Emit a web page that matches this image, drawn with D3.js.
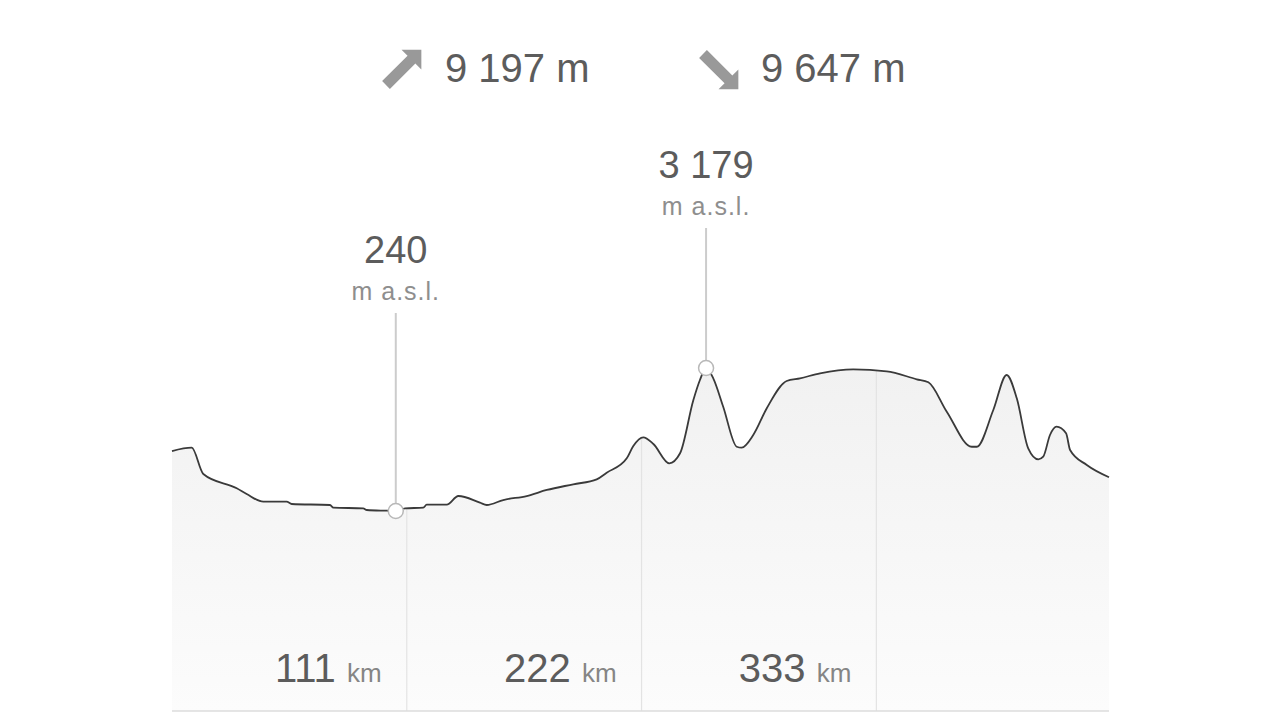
<!DOCTYPE html>
<html>
<head>
<meta charset="utf-8">
<script src="https://cdn.jsdelivr.net/npm/d3@7"></script>
<style>
  html, body { margin: 0; padding: 0; background: #ffffff; }
  svg { display: block; font-family: "Liberation Sans", Arial, sans-serif; }
</style>
</head>
<body>
<svg id="chart" width="1280" height="720"></svg>
<script>
// ---- data ----
const distKm = [0, 9.3, 14.8, 30.6, 35.3, 43.2, 54.2, 56.6, 74.7, 76.3, 90.4, 92.1, 101.5, 105.8,
  110.2, 118.8, 120.4, 129.9, 135.4, 145.6, 148.8, 156.6, 167.7, 177.2, 189.7, 200.8, 205.5,
  215.0, 218.1, 222.8, 227.6, 235.1, 240.2, 246.5, 249.6, 252.5, 255.9, 260.6, 267.0, 269.3,
  274.8, 281.2, 290.6, 296.9, 306.4, 322.1, 337.9, 352.1, 357.6, 366.3, 378.1, 380.5, 388.3,
  394.6, 399.4, 404.8, 409.6, 411.9, 415.1, 418.2, 422.7, 424.6, 432.5, 443.0];
const elevM = [1473, 1541, 1000, 707, 589, 431, 431, 384, 363, 308, 295, 261, 246, 240,
  295, 308, 369, 369, 548, 411, 363, 466, 548, 672, 789, 891, 1027,
  1323, 1576, 1755, 1617, 1220, 1426, 2521, 2932, 3179, 2967, 2384, 1561, 1541,
  1802, 2351, 2912, 2967, 3070, 3150, 3110, 2947, 2885, 2281, 1561, 1561, 2316,
  3035, 2556, 1529, 1302, 1356, 1802, 1973, 1837, 1494, 1185, 933];
const distTicks = [111, 222, 333];
const distUnit = "km";
const totalKm = 443;
const ascentLabel = "9 197 m";
const descentLabel = "9 647 m";
const extremaKm = [105.8, 252.5];
const extremaM = [240, 3179];
const extremaText = ["240", "3 179"];
const elevUnit = "m a.s.l.";

// ---- layout ----
const svg = d3.select("#chart");
const left = 172, right = 1109, bottom = 711;
const x = d3.scaleLinear().domain([0, totalKm]).range([left, right]);
const y = d3.scaleLinear().domain([240, 3179]).range([511, 368]);

const pts = distKm.map((d, i) => ({ d, e: elevM[i] }));

const defs = svg.append("defs");
const grad = defs.append("linearGradient").attr("id", "fillGrad")
  .attr("gradientUnits", "userSpaceOnUse").attr("x1", 0).attr("x2", 0).attr("y1", 368).attr("y2", bottom);
grad.append("stop").attr("offset", "0%").attr("stop-color", "#f1f1f1");
grad.append("stop").attr("offset", "100%").attr("stop-color", "#fcfcfc");

const area = d3.area().x(p => x(p.d)).y0(bottom).y1(p => y(p.e)).curve(d3.curveMonotoneX);
const line = d3.line().x(p => x(p.d)).y(p => y(p.e)).curve(d3.curveMonotoneX);

defs.append("clipPath").attr("id", "areaClip").append("path").attr("d", area(pts));

svg.append("path").attr("d", area(pts)).attr("fill", "url(#fillGrad)");

// vertical gridlines clipped to area
svg.append("g").attr("clip-path", "url(#areaClip)")
  .selectAll("line").data(distTicks).join("line")
  .attr("x1", d => x(d)).attr("x2", d => x(d))
  .attr("y1", 300).attr("y2", bottom)
  .attr("stroke", "#e3e3e3").attr("stroke-width", 1.2);

// baseline
svg.append("line").attr("x1", left).attr("x2", right).attr("y1", bottom).attr("y2", bottom)
  .attr("stroke", "#dddddd").attr("stroke-width", 1.5);

// profile line
svg.append("path").attr("d", line(pts)).attr("fill", "none")
  .attr("stroke", "#3a3a3a").attr("stroke-width", 1.8).attr("stroke-linejoin", "round");

// distance labels
const tl = svg.append("g").selectAll("text").data(distTicks).join("text")
  .attr("x", d => x(d) - 25).attr("y", 682).attr("text-anchor", "end");
tl.append("tspan").text(d => d).attr("font-size", 40).attr("fill", "#5c5c5c");
tl.append("tspan").text(" " + distUnit).attr("font-size", 26).attr("fill", "#858585").attr("dx", 4);

// extrema markers
const labelTop = [263, 178];
extremaKm.forEach((k, i) => {
  const cx = x(k), cy = y(extremaM[i]);
  const base = labelTop[i];
  svg.append("line").attr("x1", cx).attr("x2", cx).attr("y1", base + 50).attr("y2", cy - 7)
    .attr("stroke", "#cccccc").attr("stroke-width", 2);
  svg.append("circle").attr("cx", cx).attr("cy", cy).attr("r", 7.5)
    .attr("fill", "#ffffff").attr("stroke", "#b8b8b8").attr("stroke-width", 1.5);
  svg.append("text").attr("x", cx).attr("y", base).attr("text-anchor", "middle")
    .attr("font-size", 38).attr("fill", "#5c5c5c").text(extremaText[i]);
  svg.append("text").attr("x", cx).attr("y", base + 37).attr("text-anchor", "middle")
    .attr("font-size", 25).attr("letter-spacing", 1).attr("fill", "#8e8e8e").text(elevUnit);
});

// header: ascent / descent
const s = 5.5, w = 14, L = 50;
const arrowPath = `M0,${-s} L${L - w},${-s} L${L - w},${-w} L${L},0 L${L - w},${w} L${L - w},${s} L0,${s} Z`;
svg.append("path").attr("d", arrowPath).attr("fill", "#999999")
  .attr("transform", "translate(386,85) rotate(-45)");
svg.append("path").attr("d", arrowPath).attr("fill", "#999999")
  .attr("transform", "translate(703,54) rotate(45)");
svg.append("text").attr("x", 445).attr("y", 82).attr("font-size", 40).attr("fill", "#5c5c5c").text(ascentLabel);
svg.append("text").attr("x", 761).attr("y", 82).attr("font-size", 40).attr("fill", "#5c5c5c").text(descentLabel);
</script>
</body>
</html>
